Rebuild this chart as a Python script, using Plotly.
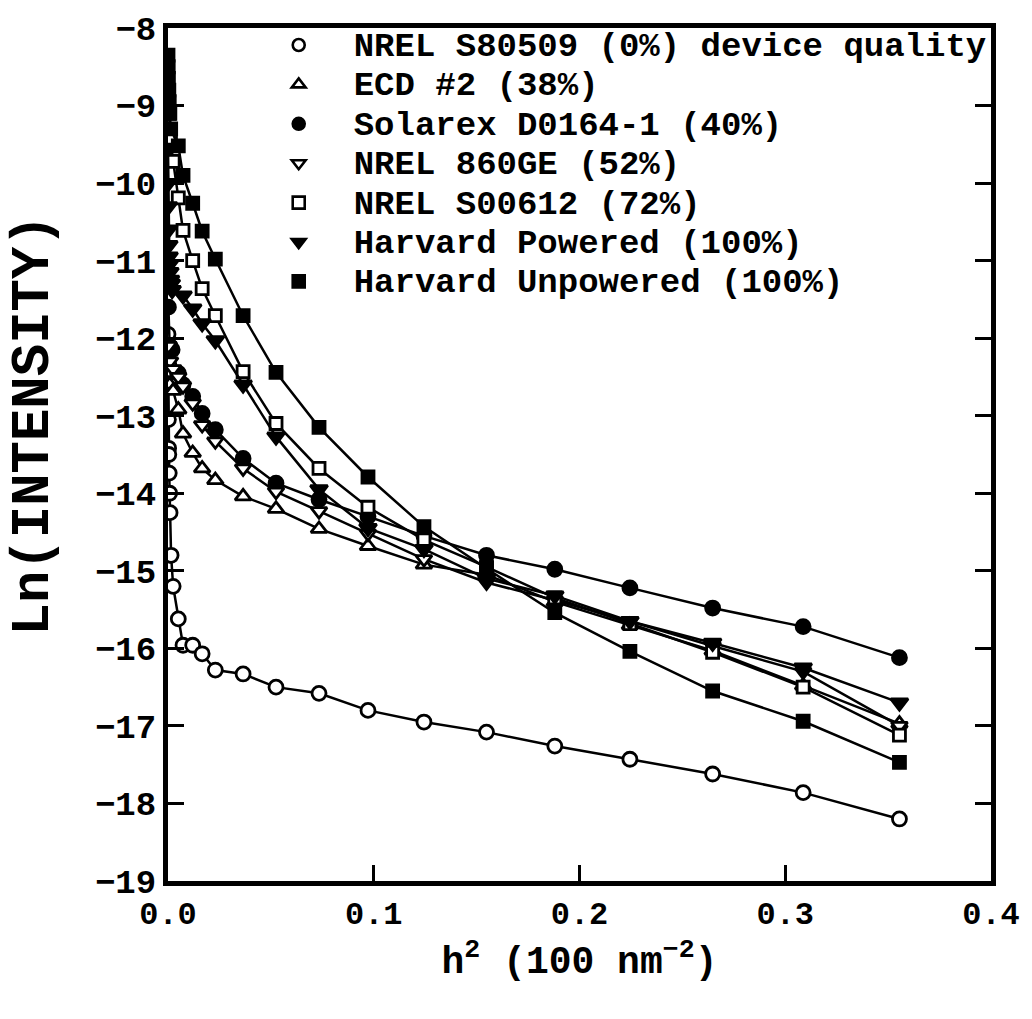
import plotly.graph_objects as go

# ---- data ----
names = [
    "NREL S80509 (0%) device quality",
    "ECD #2 (38%)",
    "Solarex D0164-1 (40%)",
    "NREL 860GE (52%)",
    "NREL S00612 (72%)",
    "Harvard Powered (100%)",
    "Harvard Unpowered (100%)",
]

x_s80509 = [0.0000, 0.0001, 0.0002, 0.0003, 0.0004, 0.0006, 0.0008, 0.0010, 0.0015, 0.0025,
            0.0050, 0.0073, 0.0120, 0.0166, 0.0230, 0.0365, 0.0525, 0.0734, 0.0972, 0.1244,
            0.1548, 0.1880, 0.2245, 0.2647, 0.3087, 0.3555]
y_s80509 = [-11.95, -12.45, -13.05, -13.42, -13.5, -13.74, -14.0, -14.25, -14.8, -15.2,
            -15.62, -15.96, -15.96, -16.07, -16.28, -16.33, -16.5, -16.58, -16.8, -16.95,
            -17.08, -17.26, -17.43, -17.62, -17.86, -18.2]

x_ecd = [0.0002, 0.0008, 0.0025, 0.0050, 0.0073, 0.0120, 0.0166, 0.0230, 0.0365, 0.0525,
         0.0734, 0.0972, 0.1244, 0.1548, 0.1880, 0.2245, 0.2647, 0.3087, 0.3555]
y_ecd = [-12.45, -12.6, -12.68, -12.92, -13.23, -13.48, -13.68, -13.83, -14.04, -14.2,
         -14.46, -14.68, -14.92, -15.05, -15.4, -15.7, -16.03, -16.48, -16.97]

x_solarex = [0.0002, 0.0008, 0.0020, 0.0050, 0.0073, 0.0120, 0.0166, 0.0230, 0.0365, 0.0525,
             0.0734, 0.0972, 0.1244, 0.1548, 0.1880, 0.2245, 0.2647, 0.3087, 0.3555]
y_solarex = [-11.6, -12.1, -12.15, -12.45, -12.6, -12.75, -12.97, -13.18, -13.55, -13.87,
             -14.08, -14.3, -14.55, -14.8, -14.98, -15.22, -15.48, -15.72, -16.12]

x_860ge = [0.0003, 0.0010, 0.0025, 0.0050, 0.0073, 0.0120, 0.0166, 0.0230, 0.0365, 0.0525,
           0.0734, 0.0972, 0.1244, 0.1548, 0.1880, 0.2245, 0.2647, 0.3087, 0.3555]
y_860ge = [-12.1, -12.3, -12.4, -12.5, -12.62, -12.84, -13.12, -13.33, -13.68, -13.98,
           -14.23, -14.52, -14.85, -15.15, -15.38, -15.65, -15.97, -16.3, -17.0]

x_s00612 = [0.0000, 0.0005, 0.0012, 0.0025, 0.0050, 0.0073, 0.0120, 0.0166, 0.0230, 0.0365,
            0.0525, 0.0734, 0.0972, 0.1244, 0.1548, 0.1880, 0.2245, 0.2647, 0.3087, 0.3555]
y_s00612 = [-8.9, -9.1, -9.42, -9.72, -10.19, -10.61, -11.0, -11.36, -11.71, -12.43,
            -13.1, -13.68, -14.18, -14.6, -14.95, -15.35, -15.68, -16.05, -16.5, -17.12]

x_powered = [0.0000, 0.0001, 0.0002, 0.0003, 0.0004, 0.0005, 0.0007, 0.0009, 0.0012, 0.0016,
             0.0020, 0.0073, 0.0120, 0.0166, 0.0230, 0.0365, 0.0525, 0.0734, 0.0972, 0.1244,
             0.1548, 0.1880, 0.2245, 0.2647, 0.3087, 0.3555]
y_powered = [-9.55, -10.0, -10.3, -10.6, -10.8, -10.95, -11.05, -11.15, -11.25, -11.3,
             -11.38, -11.45, -11.62, -11.81, -12.03, -12.6, -13.27, -13.95, -14.45, -14.72,
             -15.1, -15.32, -15.65, -15.93, -16.25, -16.7]

x_unpowered = [0.0000, 0.0001, 0.0002, 0.0004, 0.0006, 0.0009, 0.0013, 0.0050, 0.0073, 0.0120,
               0.0166, 0.0230, 0.0365, 0.0525, 0.0734, 0.0972, 0.1244, 0.1548, 0.1880, 0.2245,
               0.2647, 0.3087, 0.3555]
y_unpowered = [-8.35, -8.5, -8.65, -8.8, -8.95, -9.1, -9.3, -9.52, -9.9, -10.26,
               -10.62, -10.98, -11.71, -12.44, -13.15, -13.79, -14.43, -14.97, -15.54, -16.04,
               -16.55, -16.94, -17.47]

x_ticks = [0.0, 0.1, 0.2, 0.3, 0.4]
x_tick_text = ["0.0", "0.1", "0.2", "0.3", "0.4"]
y_ticks = list(range(-19, -7))
x_title = "h<sup>2</sup> (100 nm<sup>\u22122</sup>)"
y_title = "Ln(INTENSITY)"

# ---- styling ----
series = [
    (x_s80509, y_s80509, "circle", "white", 14),
    (x_ecd, y_ecd, "triangle-up", "white", 14),
    (x_solarex, y_solarex, "circle", "black", 14),
    (x_860ge, y_860ge, "triangle-down", "white", 14),
    (x_s00612, y_s00612, "square", "white", 12),
    (x_powered, y_powered, "triangle-down", "black", 15),
    (x_unpowered, y_unpowered, "square", "black", 12),
]

MONO = "Liberation Mono"
fig = go.Figure()

for name, (xs, ys, sym, fill, size) in zip(names, series):
    fig.add_trace(go.Scatter(
        x=xs, y=ys, mode="lines+markers", showlegend=False,
        line=dict(color="black", width=2.5),
        marker=dict(symbol=sym, size=size, color=fill,
                    line=dict(color="black", width=2.8)),
    ))

# marker-only legend entries
for name, (xs, ys, sym, fill, size) in zip(names, series):
    fig.add_trace(go.Scatter(
        x=[None], y=[None], mode="markers", name=f'<span style="font-size:34px">{name}</span>',
        marker=dict(symbol=sym, size=12, color=fill,
                    line=dict(color="black", width=2.6)),
    ))

fig.update_layout(
    width=1032, height=1019,
    paper_bgcolor="white", plot_bgcolor="white",
    margin=dict(l=168, r=30, t=25, b=138),
    font=dict(family=MONO, color="black", size=30, weight="bold"),
    showlegend=True,
    legend=dict(
        x=0.092, y=1.009, xanchor="left", yanchor="top",
        bgcolor="rgba(0,0,0,0)", borderwidth=0,
        itemwidth=100,
        font=dict(family=MONO, size=28, color="black", weight="bold"),
        tracegroupgap=0,
    ),
    annotations=[dict(
        text=y_title, textangle=-90, showarrow=False,
        xref="paper", yref="paper", x=-0.163, y=0.535,
        xanchor="center", yanchor="middle",
        font=dict(family=MONO, size=54, weight="bold", color="black"),
    )],
)

fig.update_xaxes(
    range=[0, 0.4], tickvals=x_ticks, ticktext=x_tick_text,
    showgrid=False, zeroline=False,
    showline=True, linecolor="black", linewidth=5, mirror=True,
    ticks="inside", ticklen=16, tickwidth=2.5, tickcolor="black",
    tickfont=dict(family=MONO, size=32, weight="bold"),
    ticklabeloverflow="allow",
    title=dict(text=x_title,
               font=dict(family=MONO, size=38, weight="bold"), standoff=14),
)
fig.update_yaxes(
    range=[-19, -8], tickvals=y_ticks,
    showgrid=False, zeroline=False,
    showline=True, linecolor="black", linewidth=5, mirror="ticks",
    ticks="inside", ticklen=16, tickwidth=2.5, tickcolor="black",
    tickfont=dict(family=MONO, size=34, weight="bold"),
)

fig.write_html("out.html")
